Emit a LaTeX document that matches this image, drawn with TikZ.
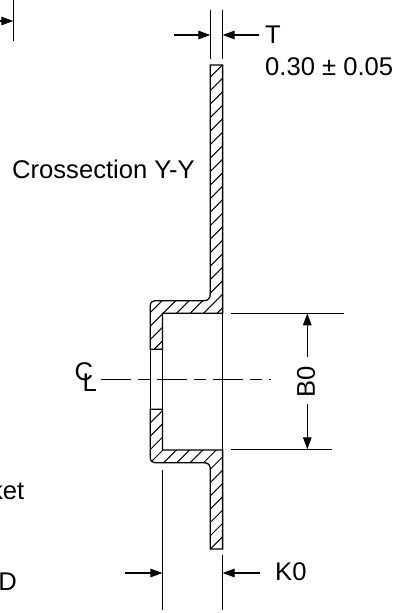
\documentclass[tikz,border=0pt]{standalone}
\usepackage{fontspec}
\setmainfont{Liberation Sans}
\usetikzlibrary{arrows.meta,calc}
\tikzset{
  outline/.style  = {line width=1.3pt},
  hatchline/.style= {line width=1pt},
  extline/.style  = {line width=1.2pt},
  dimarrow/.style = {-{Triangle[length=12pt,width=8.5pt]},line width=1.2pt},
  center line/.style = {line width=1.2pt,dash pattern=on 30pt off 7pt on 12pt off 7pt},
  dimlabel/.style = {font=\fontsize{25.6}{25.6}\selectfont,inner sep=0pt}
}
\newcommand{\upperpart}{(210.3,65) -- (222.6,65) -- (222.6,313.3) -- (162.4,313.3) -- (162.4,349.3) -- (150.3,349.3)
  -- (150.3,306) .. controls (150.3,302.5) and (152,300.7) .. (155,300.7) -- (204,300.7)
  .. controls (208,300.7) and (210.3,298) .. (210.3,294) -- cycle}
\newcommand{\lowerpart}{(210.3,549) -- (222.6,549) -- (222.6,450) -- (162.4,450) -- (162.4,409.3) -- (150.3,409.3)
  -- (150.3,457.5) .. controls (150.3,461) and (152,462.7) .. (155,462.7) -- (204,462.7)
  .. controls (208,462.7) and (210.3,465) .. (210.3,469) -- cycle}
\begin{document}
\begin{tikzpicture}[x=1pt,y=-1pt]
  \useasboundingbox (0,0) rectangle (401,613);
  % section hatching
  \begin{scope}
    \clip \upperpart;
    \foreach \i in {0,...,30}
      \draw[hatchline] (140,{147.3+\i*13.5}) -- ++(90,-90);
  \end{scope}
  \begin{scope}
    \clip \lowerpart;
    \foreach \i in {0,...,20}
      \draw[hatchline] (140,{366.6+\i*13.3}) -- ++(90,-90);
  \end{scope}
  % section outline
  \draw[outline] \upperpart;
  \draw[outline] \lowerpart;
  \draw[outline] (150.3,349.3) -- (150.3,409.3);
  \draw[outline] (162.4,349.3) -- (162.4,409.3);
  \draw[outline] (222.6,313.3) -- (222.6,450);
  % center line
  \node[dimlabel,anchor=base west] (cl label) at (74.5,380.5) {C\kern-10.5pt\raisebox{-11.2pt}{L}};
  \coordinate (center a) at (101,379.5);
  \coordinate (center b) at (271,379.5);
  \draw[center line] (center a) -- (center b);
  % T
  \coordinate (t top l) at (210.3,10);
  \coordinate (t bot l) at (210.3,59);
  \coordinate (t top r) at (222.6,10);
  \coordinate (t bot r) at (222.6,59);
  \draw[extline] (t top l) -- (t bot l);
  \draw[extline] (t top r) -- (t bot r);
  \node[dimlabel,anchor=west] (t label) at (265,35) {T};
  \node[dimlabel,anchor=west] (t value) at (265,67) {0.30 ± 0.05};
  \coordinate (t start l) at (174,35);
  \coordinate (t end l) at (210.3,35);
  \coordinate (t start r) at (259,35);
  \coordinate (t end r) at (222.6,35);
  \draw[dimarrow] (t start l) -- (t end l);
  \draw[dimarrow] (t start r) -- (t end r);
  % B0
  \coordinate (b top l) at (231,313.3);
  \coordinate (b top r) at (344,313.3);
  \coordinate (b bot l) at (231,449.3);
  \coordinate (b bot r) at (332,449.3);
  \draw[extline] (b top l) -- (b top r);
  \draw[extline] (b bot l) -- (b bot r);
  \node[dimlabel,rotate=90] (b label) at (306,382) {B0};
  \coordinate (b end t) at (307.3,313.3);
  \coordinate (b end b) at (307.3,449.3);
  \draw[dimarrow] (b label.east -| b end t) ++(0,-8.7) -- (b end t);
  \draw[dimarrow] (b label.west -| b end b) ++(0,5.7) -- (b end b);
  % K0
  \coordinate (k top l) at (162.4,470);
  \coordinate (k bot l) at (162.4,610);
  \coordinate (k top r) at (222.6,555);
  \coordinate (k bot r) at (222.6,610);
  \draw[extline] (k top l) -- (k bot l);
  \draw[extline] (k top r) -- (k bot r);
  \coordinate (k start l) at (125,573);
  \coordinate (k end l) at (162.4,573);
  \coordinate (k start r) at (259.5,573);
  \coordinate (k end r) at (222.6,573);
  \draw[dimarrow] (k start l) -- (k end l);
  \draw[dimarrow] (k start r) -- (k end r);
  \node[dimlabel,anchor=west] (k label) at (275,572) {K0};
  % cut off at the page edge
  \node[dimlabel,anchor=west] (section label) at (12,169) {Crossection Y-Y};
  \node[dimlabel,anchor=base east] (ket label) at (24.5,499) {ket};
  \node[dimlabel,anchor=base east] (d label) at (17,590) {D};
  \coordinate (w top) at (13.3,0);
  \coordinate (w bot) at (13.3,40.5);
  \coordinate (w start) at (-10,21);
  \coordinate (w end) at (13.3,21);
  \draw[extline] (w top) -- (w bot);
  \draw[dimarrow] (w start) -- (w end);
\end{tikzpicture}
\end{document}
